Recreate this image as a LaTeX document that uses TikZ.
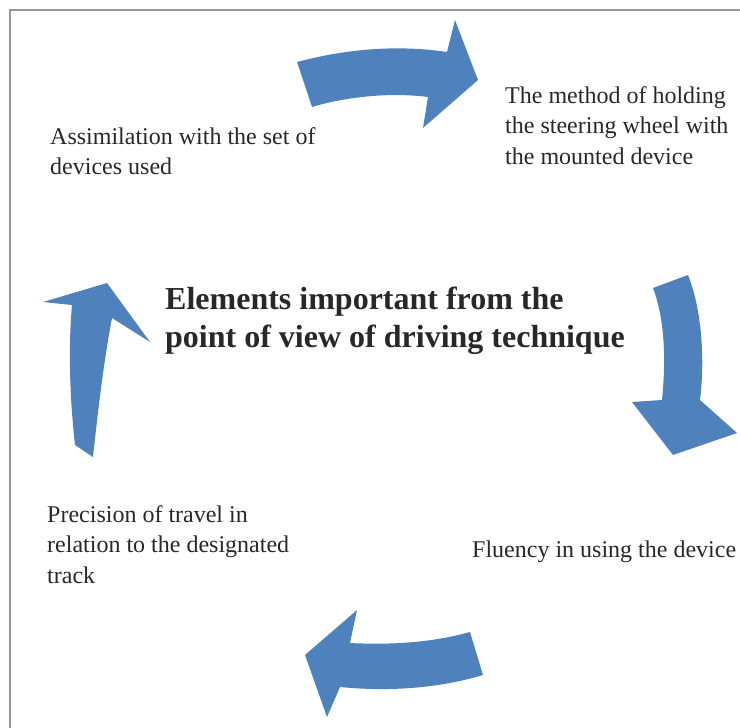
\documentclass[tikz,border=0pt]{standalone}
\usepackage{xcolor}
\usepackage{fontspec}
\setmainfont{Liberation Serif}
\usepackage{tikz}
\usetikzlibrary{positioning}

\definecolor{arrowblue}{RGB}{79,129,189}
\definecolor{framegray}{RGB}{150,150,150}
\definecolor{textgray}{RGB}{40,40,40}

\tikzset{
  itemtext/.style={anchor=north west, inner sep=0pt, align=left, text=textgray,
    font=\fontsize{24}{30.5}\selectfont},
  titletext/.style={anchor=north west, inner sep=0pt, align=left, text=textgray,
    font=\fontsize{32}{38}\selectfont\bfseries},
  cyclearrow/.style={fill=arrowblue, draw=none}
}

\begin{document}
\begin{tikzpicture}[x=1pt, y=-1pt]
\useasboundingbox (0,0) rectangle (740,728);

% frame (only top and left edges are visible)
\draw[framegray, line width=2pt] (10,728) -- (10,10) -- (740,10);

% Arrow 1: top, pointing right
\fill[cyclearrow] (297,62) .. controls (350,48) and (400,45) .. (447,52)
  -- (455,20) -- (478,80) -- (423,128) -- (428,97)
  .. controls (390,92) and (345,97) .. (312,107) -- cycle;

% Arrow 2: right, pointing down
\fill[cyclearrow] (688,275) .. controls (702,310) and (705,360) .. (700,400)
  -- (737,433) -- (673,455) -- (632,402) -- (662,400)
  .. controls (666,360) and (665,320) .. (653,288) -- cycle;

% Arrow 3: bottom, pointing left
\fill[cyclearrow] (483,675) .. controls (440,688) and (390,692) .. (340,687)
  -- (327,717) -- (305,655) -- (357,610) -- (350,643)
  .. controls (390,645) and (430,643) .. (470,632) -- cycle;

% Arrow 4: left, pointing up
\fill[cyclearrow] (75,445) .. controls (70,400) and (68,350) .. (72,305)
  -- (43,302) -- (107,283) -- (150,342) -- (112,318)
  .. controls (104,360) and (98,410) .. (93,457) -- cycle;

% Texts
\node[itemtext] (assim) at (50,127) {Assimilation with the set of\\devices used};
\node[itemtext] (method) at (505,86) {The method of holding\\the steering wheel with\\the mounted device};
\node[titletext] (title) at (165,287) {Elements important from the\\point of view of driving technique};
\node[itemtext] (fluency) at (472,541) {Fluency in using the device};
\node[itemtext] (precision) at (47,505) {Precision of travel in\\relation to the designated\\track};

\end{tikzpicture}
\end{document}
